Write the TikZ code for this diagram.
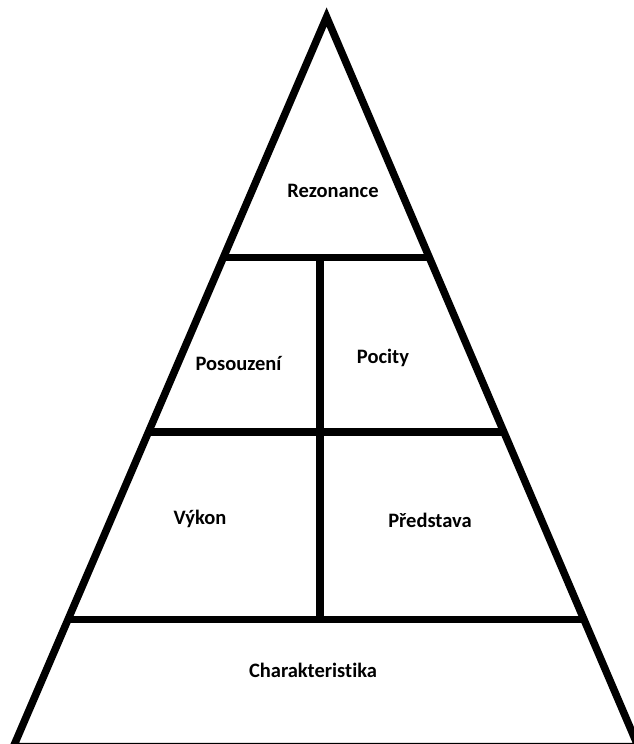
\documentclass[tikz,border=0pt]{standalone}
\usepackage{fontspec}
\setmainfont{Carlito}[Ligatures=NoCommon]
\usetikzlibrary{calc}
\begin{document}
\begin{tikzpicture}[x=1pt,y=-1pt,
  edge/.style={line width=7.5pt},
  lbl/.style={font=\bfseries\fontsize{20.5}{23}\selectfont, anchor=base, inner sep=0pt}]
\useasboundingbox (0,0) rectangle (633,744);
% outer triangle
\coordinate (apex) at (326.6,17);
\coordinate (bl) at (13.5,746.5);
\coordinate (br) at (638.2,746.5);
\draw[edge, line join=miter] (apex) -- (bl) -- (br) -- cycle;
% horizontal dividers, ending on the sides
\coordinate (l1) at ($(apex)!0.3297!(bl)$);
\coordinate (r1) at ($(apex)!0.3297!(br)$);
\coordinate (l2) at ($(apex)!0.5689!(bl)$);
\coordinate (r2) at ($(apex)!0.5689!(br)$);
\coordinate (l3) at ($(apex)!0.8259!(bl)$);
\coordinate (r3) at ($(apex)!0.8259!(br)$);
\draw[edge] (l1) -- (r1);
\draw[edge] (l2) -- (r2);
\draw[edge] (l3) -- (r3);
% vertical divider
\coordinate (vtop) at (320,257.5);
\coordinate (vbot) at (320,619.5);
\draw[edge] (vtop) -- (vbot);
% labels
\node[lbl] (rez) at (333,197) {Rezonance};
\node[lbl] (pos) at (238.5,370) {Posouzení};
\node[lbl] (poc) at (383,363) {Pocity};
\node[lbl] (vyk) at (200,524) {Výkon};
\node[lbl] (pre) at (430,527) {Představa};
\node[lbl] (cha) at (313,677) {Charakteristika};
\end{tikzpicture}
\end{document}
